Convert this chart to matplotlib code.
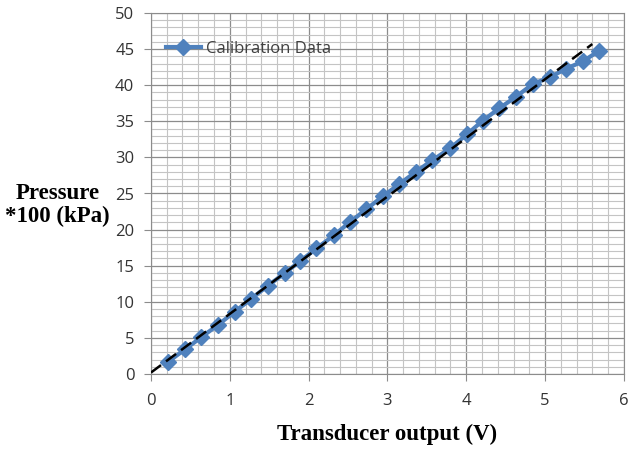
import numpy as np
import matplotlib
matplotlib.use('Agg')
import matplotlib.pyplot as plt
from matplotlib.ticker import MultipleLocator

# Datos de calibracion
voltaje = [0.22, 0.43, 0.64, 0.85, 1.06, 1.27, 1.48, 1.70, 1.89, 2.10,
           2.32, 2.52, 2.73, 2.94, 3.15, 3.36, 3.57, 3.80, 4.01, 4.21,
           4.42, 4.63, 4.85, 5.06, 5.27, 5.48, 5.69]
presion = [1.7, 3.4, 5.1, 6.8, 8.6, 10.4, 12.2, 14.0, 15.6, 17.4,
           19.2, 21.0, 22.8, 24.6, 26.3, 28.0, 29.6, 31.3, 33.2, 35.1,
           36.8, 38.4, 40.2, 41.1, 42.3, 43.3, 44.8]

# Linea de ajuste (extremos)
ajuste_x = [0.0, 5.6]
ajuste_y = [0.2, 45.7]

azul = '#4F81BD'

fig = plt.figure(figsize=(6.28, 4.5), dpi=100)
ax = fig.add_axes([0.2404, 0.1689, 0.753, 0.8022])

ax.plot(voltaje, presion, color=azul, lw=3, marker='D', ms=8,
        label='Calibration Data', zorder=3)
ax.plot(ajuste_x, ajuste_y, color='black', lw=1.8, ls=(0, (5, 2.5)), zorder=4)

ax.set_xlim(0, 6)
ax.set_ylim(0, 50)
ax.xaxis.set_major_locator(MultipleLocator(1))
ax.xaxis.set_minor_locator(MultipleLocator(0.2))
ax.yaxis.set_major_locator(MultipleLocator(5))
ax.yaxis.set_minor_locator(MultipleLocator(1))

ax.grid(which='major', color='#8c8c8c', lw=0.9)
ax.grid(which='minor', color='#c4c4c4', lw=0.8)
ax.set_axisbelow(True)

for s in ax.spines.values():
    s.set_color('#8c8c8c')
ax.tick_params(which='major', length=5, color='#8c8c8c', labelsize=12,
               labelcolor='#333333')
ax.tick_params(axis='x', which='major', pad=9)
ax.tick_params(axis='y', which='major', pad=7)
ax.tick_params(which='minor', length=0)
for lab in ax.get_xticklabels() + ax.get_yticklabels():
    lab.set_family('Open Sans')

ax.set_xlabel('Transducer output (V)', family='Liberation Serif',
              fontweight='bold', fontsize=16.5, labelpad=10)
fig.text(0.092, 0.544, 'Pressure\n*100 (kPa)', family='Liberation Serif',
         fontweight='bold', fontsize=16.5, ha='center', va='center',
         linespacing=1.12)

leg = ax.legend(loc='upper left', frameon=False,
                prop={'family': 'Open Sans', 'size': 12},
                handlelength=2.1, handletextpad=0.3,
                bbox_to_anchor=(0.0, 0.965))
for t in leg.get_texts():
    t.set_color('#404040')

plt.savefig('out.png', dpi=100)
